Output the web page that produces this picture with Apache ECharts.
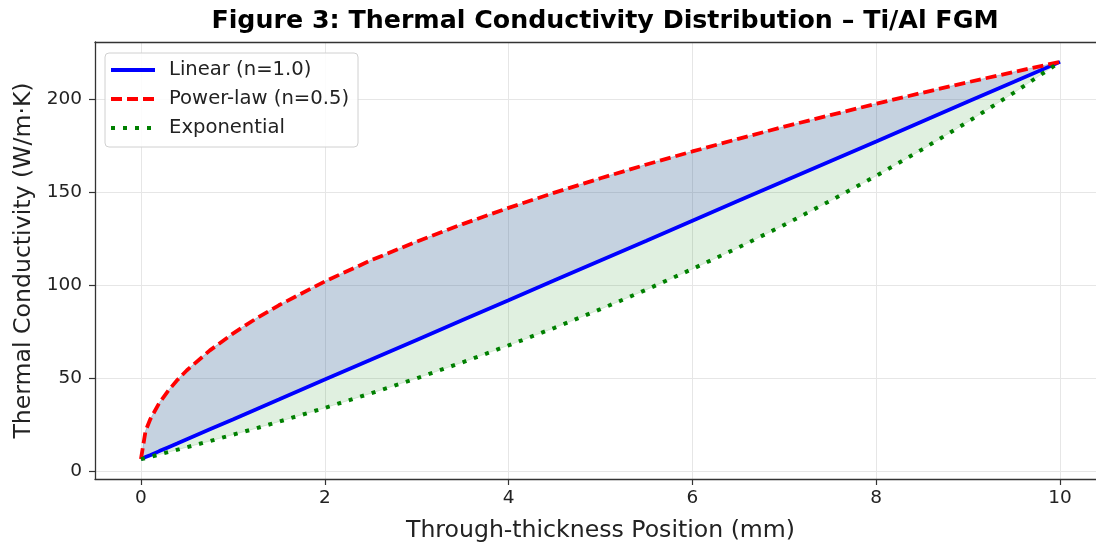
<!DOCTYPE html>
<html>
<head>
<meta charset="utf-8">
<script src="https://cdn.jsdelivr.net/npm/echarts@6/dist/echarts.min.js"></script>
<style>
  html, body { margin: 0; padding: 0; background: #fff; }
  #chart { width: 1096px; height: 546px; }
</style>
</head>
<body>
<div id="chart"></div>
<script>
// through-thickness position (mm)
const positions = [0, 0.05, 0.1, 0.2, 0.3, 0.4, 0.5, 0.75, 1, 1.25, 1.5, 2, 2.5, 3, 3.5, 4, 4.5, 5, 5.5, 6, 6.5, 7, 7.5, 8, 8.5, 9, 9.5, 10];
// thermal conductivity (W/m·K)
const linearK = [6.7, 7.8, 8.8, 11.0, 13.1, 15.2, 17.4, 22.7, 28.0, 33.4, 38.7, 49.4, 60.0, 70.7, 81.4, 92.0, 102.7, 113.4, 124.0, 134.7, 145.4, 156.0, 166.7, 177.3, 188.0, 198.7, 209.3, 220.0];
const powerK = [6.7, 21.8, 28.0, 36.9, 43.6, 49.4, 54.4, 65.1, 74.1, 82.1, 89.3, 102.1, 113.4, 123.5, 132.9, 141.6, 149.8, 157.5, 164.9, 171.9, 178.7, 185.2, 191.4, 197.5, 203.4, 209.1, 214.6, 220.0];
const expK = [6.7, 7.3, 7.9, 9.2, 10.5, 11.8, 13.1, 16.4, 19.8, 23.2, 26.8, 34.2, 42.0, 50.1, 58.7, 67.8, 77.2, 87.2, 97.7, 108.8, 120.3, 132.5, 145.4, 158.8, 173.0, 187.9, 203.5, 220.0];
const xTicks = [0, 2, 4, 6, 8, 10];
const yTicks = [0, 50, 100, 150, 200];
const seriesNames = ["Linear (n=1.0)", "Power-law (n=0.5)", "Exponential"];

const font = "DejaVu Sans";
const pairs = (ys) => positions.map((x, i) => [x, ys[i]]);

// shaded band between two curves, built through the axes
const bandSeries = (upper, lower, color) => ({
  type: "custom",
  silent: true,
  z: 1,
  data: [[0, 0]],
  renderItem: (params, api) => {
    const top = positions.map((x, i) => api.coord([x, upper[i]]));
    const bottom = positions.map((x, i) => api.coord([x, lower[i]])).reverse();
    return {
      type: "polygon",
      shape: { points: top.concat(bottom) },
      style: { fill: color, stroke: color, lineWidth: 1 },
    };
  },
});

const lineSeries = (name, data, color, width, dash) => ({
  name: name,
  type: "line",
  data: pairs(data),
  symbol: "none",
  z: 5,
  lineStyle: { color: color, width: width, type: dash, cap: "butt" },
});

const legendRow = (y, color, dash, width, text) => [
  {
    type: "line",
    shape: { x1: 111, y1: y, x2: 155, y2: y },
    style: { stroke: color, lineWidth: width, lineDash: dash },
  },
  {
    type: "text",
    x: 169,
    y: y,
    style: { text: text, font: "19.6px '" + font + "'", fill: "#222", verticalAlign: "middle" },
  },
];

const option = {
  animation: false,
  title: {
    text: "Figure 3: Thermal Conductivity Distribution – Ti/Al FGM",
    left: 600,
    top: 4,
    textAlign: "center",
    textStyle: { fontFamily: font, fontWeight: "bold", fontSize: 25.3, color: "#000" },
  },
  grid: { left: 95, right: -10, top: 42, bottom: 67, outerBoundsMode: "none", containLabel: false },
  xAxis: [
    {
      type: "value",
      min: -0.5,
      max: 10.5,
      name: "Through-thickness Position (mm)",
      nameLocation: "middle",
      nameGap: 40,
      nameTextStyle: { fontFamily: font, fontSize: 23.6, color: "#222" },
      axisLine: { show: true, onZero: false, lineStyle: { color: "#333", width: 1.3 } },
      axisTick: { show: true, length: 6, customValues: xTicks, lineStyle: { color: "#333", width: 1.2 } },
      axisLabel: { customValues: xTicks, fontFamily: font, fontSize: 18.5, color: "#222", margin: 10 },
      splitLine: { show: true, lineStyle: { color: "#e6e6e6", width: 1 } },
    },
    {
      type: "value",
      position: "top",
      min: -0.5,
      max: 10.5,
      axisLine: { show: true, onZero: false, lineStyle: { color: "#333", width: 1.3 } },
      axisTick: { show: false },
      axisLabel: { show: false },
      splitLine: { show: false },
    },
  ],
  yAxis: {
    type: "value",
    min: -3.97,
    max: 230.67,
    name: "Thermal Conductivity (W/m·K)",
    nameLocation: "middle",
    nameGap: 58,
    nameTextStyle: { fontFamily: font, fontSize: 23.6, color: "#222" },
    axisLine: { show: true, onZero: false, lineStyle: { color: "#333", width: 1.3 } },
    axisTick: { show: true, length: 6, customValues: yTicks, lineStyle: { color: "#333", width: 1.2 } },
    axisLabel: { customValues: yTicks, fontFamily: font, fontSize: 18.5, color: "#222", margin: 13 },
    splitLine: { show: true, lineStyle: { color: "#e6e6e6", width: 1 } },
  },
  series: [
    bandSeries(linearK, expK, "rgba(0,128,0,0.12)"),
    bandSeries(powerK, linearK, "rgba(40,90,140,0.27)"),
    lineSeries(seriesNames[0], linearK, "#0000ff", 3.8, "solid"),
    lineSeries(seriesNames[1], powerK, "#ff0000", 3.8, [11, 5]),
    lineSeries(seriesNames[2], expK, "#008000", 4, [4, 8]),
  ],
  graphic: [
    {
      type: "rect",
      shape: { x: 105, y: 53, width: 253, height: 94, r: 4 },
      style: { fill: "rgba(255,255,255,0.85)", stroke: "#d0d0d0", lineWidth: 1 },
    },
    ...legendRow(70, "#0000ff", null, 4, seriesNames[0]),
    ...legendRow(99, "#ff0000", [11, 5], 4, seriesNames[1]),
    ...legendRow(128, "#008000", [4, 8], 4, seriesNames[2]),
  ].map((g) => Object.assign({ z: 101 }, g)),
};

const chart = echarts.init(document.getElementById("chart"));
chart.setOption(option);
</script>
</body>
</html>
